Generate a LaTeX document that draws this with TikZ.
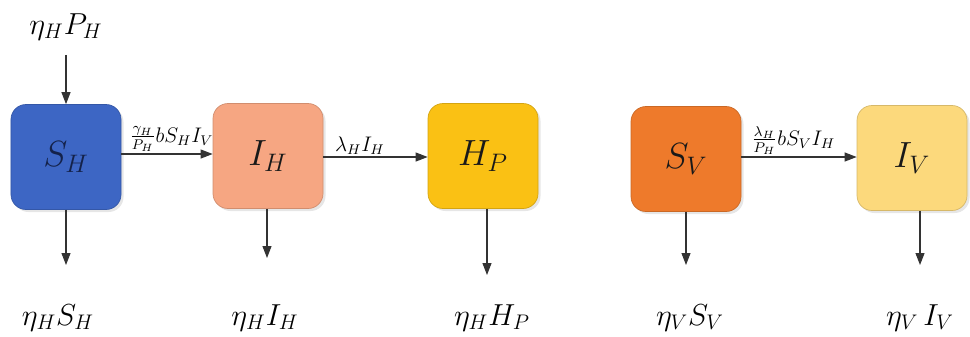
\documentclass[tikz,border=0pt]{standalone}
\usepackage{amsmath}
\usetikzlibrary{arrows.meta, shadows, positioning, calc}
\definecolor{hostblue}{HTML}{3D66C4}
\definecolor{hostnavy}{HTML}{14224A}
\definecolor{infsalmon}{HTML}{F6A682}
\definecolor{hospgold}{HTML}{FAC114}
\definecolor{vecorange}{HTML}{EE7A2B}
\definecolor{vecyellow}{HTML}{FCD97C}
\definecolor{arrowgray}{HTML}{333333}

\begin{document}
\begin{tikzpicture}[x=0.2mm, y=-0.2mm,
    comp/.style={draw=#1!85!black, line width=0.4pt, fill=#1, rounded corners=3mm,
      minimum width=22mm, minimum height=21mm, inner sep=0pt,
      font=\fontsize{21}{24}\selectfont, text=black!90,
      drop shadow={opacity=0.2, shadow xshift=0.5mm, shadow yshift=-0.5mm}},
    flow/.style={draw=arrowgray, line width=0.6pt, -{Triangle[length=2.4mm, width=1.8mm]}},
    rate/.style={font=\fontsize{12}{14}\selectfont, inner sep=1pt},
    lbl/.style={font=\fontsize{18}{20}\selectfont, inner sep=1pt}]
  \useasboundingbox (0,0) rectangle (970,336);
  % compartimentos
  \node[comp=hostblue, text=hostnavy] (sh) at (66,157) {$S_H$};
  \node[comp=infsalmon] (ih) at (268,156) {$I_H$};
  \node[comp=hospgold] (hp) at (483,156) {$H_P$};
  \node[comp=vecorange] (sv) at (686,159) {$S_V$};
  \node[comp=vecyellow] (iv) at (912,158) {$I_V$};
  % reclutamiento
  \node[lbl] (birth) at (66,27) {$\eta_H P_H$};
  \draw[flow, shorten <=2.5mm] (birth.south) -- (sh.north);
  % transiciones
  \draw[flow] (sh.east |- 0,154) -- (ih.west |- 0,154)
    node[rate, above, pos=0.55] {$\tfrac{\gamma_H}{P_H} b S_H I_V$};
  \draw[flow] (ih.east |- 0,157) -- (hp.west |- 0,157)
    node[rate, above, pos=0.35] {$\lambda_H I_H$};
  \draw[flow] (sv.east |- 0,157) -- (iv.west |- 0,157)
    node[rate, above, pos=0.45] {$\tfrac{\lambda_H}{P_H} b S_V I_H$};
  % mortalidad
  \coordinate (shout) at (66,265);
  \coordinate (ihout) at (267,258);
  \coordinate (hpout) at (487,275);
  \coordinate (svout) at (686,265);
  \coordinate (ivout) at (920,265);
  \draw[flow] (sh.south -| shout) -- (shout);
  \draw[flow] (ih.south -| ihout) -- (ihout);
  \draw[flow] (hp.south -| hpout) -- (hpout);
  \draw[flow] (sv.south -| svout) -- (svout);
  \draw[flow] (iv.south -| ivout) -- (ivout);
  \node[lbl] (shdeath) at (58,318) {$\eta_H S_H$};
  \node[lbl] (ihdeath) at (265,318) {$\eta_H I_H$};
  \node[lbl] (hpdeath) at (492,318) {$\eta_H H_P$};
  \node[lbl] (svdeath) at (690,318) {$\eta_V S_V$};
  \node[lbl] (ivdeath) at (920,318) {$\eta_V\, I_V$};
\end{tikzpicture}
\end{document}
